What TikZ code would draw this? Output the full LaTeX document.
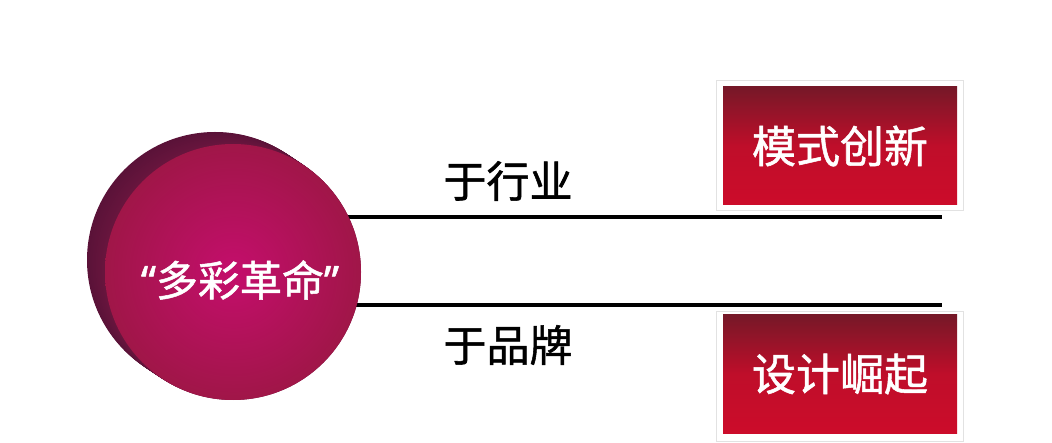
\documentclass[tikz,border=0pt]{standalone}
\usepackage{fontspec}
\setmainfont{Noto Sans}
\newfontfamily\cjk[FakeBold=1.2]{Noto Sans CJK SC}
\newfontfamily\qfont[FakeBold=1.2]{Noto Sans}
\usetikzlibrary{calc}
\definecolor{sidedark}{HTML}{5A1238}
\definecolor{sidemid}{HTML}{7E1A46}
\definecolor{faceinner}{HTML}{C40E6C}
\definecolor{faceouter}{HTML}{A01648}
\definecolor{boxtop}{HTML}{761828}
\definecolor{boxbot}{HTML}{CC0C2A}
\definecolor{frame}{HTML}{E2E2E2}
\tikzset{
  conn/.style={line width=4.5pt, black},
  lbl/.style={font=\cjk\fontsize{43}{48}\selectfont, text=black, inner sep=0pt},
  redbox/.style={minimum width=234pt, minimum height=118pt, inner sep=0pt,
    top color=boxtop, bottom color=boxbot, middle color=boxbot!85!boxtop,
    font=\cjk\fontsize{44}{50}\selectfont, text=white},
  boxframe/.style={draw=frame, line width=1pt, fill=white},
}
\begin{document}
\begin{tikzpicture}[x=1pt,y=-1pt]
\useasboundingbox (0,0) rectangle (1052,443);
% connectors (drawn first, disk covers their start)
\coordinate (l1s) at (300,217);
\coordinate (l1e) at (942,217);
\coordinate (l2s) at (300,305);
\coordinate (l2e) at (942,305);
\draw[conn] (l1s) -- (l1e);
\draw[conn] (l2s) -- (l2e);
% disk side
\foreach \t in {0,0.04,...,1.0}{
  \fill[sidedark!\fpeval{100-40*\t}!sidemid] ($(215,260)!\t!(233,272)$) circle (128pt);
}
% disk front face
\shade[inner color=faceinner, outer color=faceouter] (233,272) circle (128pt);
\node[circle, minimum size=256pt, inner sep=0pt] (disk) at (233,272) {};
\node[font=\qfont\fontsize{42}{48}\selectfont, text=white, inner sep=0pt] (disktxt) at (240,280)
  {“\cjk 多彩革命\qfont ”};
% labels
\node[lbl] (lab1) at (508,181) {于行业};
\node[lbl] (lab2) at (508,345) {于品牌};
% boxes
\fill[boxframe] (716,81) rectangle (963,211);
\node[redbox] (box1) at (840,146) {模式创新};
\fill[boxframe] (716,312) rectangle (963,441);
\node[redbox] (box2) at (840,374) {设计崛起};
\end{tikzpicture}
\end{document}
